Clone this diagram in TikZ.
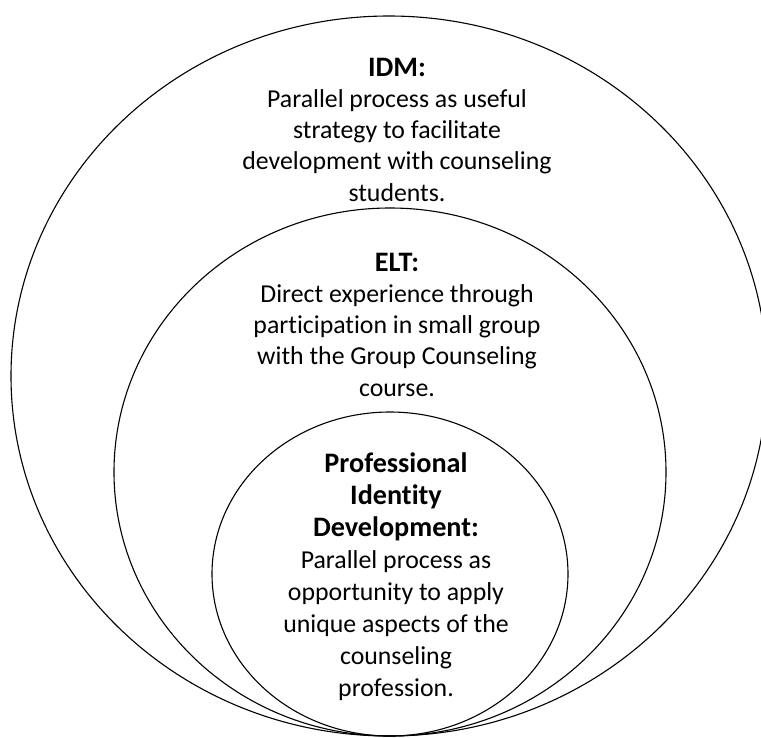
\documentclass[tikz,border=0pt]{standalone}
\usepackage{fontspec}
\setmainfont[Ligatures={NoCommon}]{Carlito}
\usetikzlibrary{shapes.geometric}

\tikzset{
  ring/.style={ellipse, draw=black, line width=1.1pt, inner sep=0pt, outer sep=0pt},
  % multi-line nodes: the base anchor sits on the baseline of the last line
  headtext/.style={anchor=base, inner sep=0pt, align=center,
                   font=\fontsize{28.2}{31.4}\selectfont\bfseries},
  bodytext/.style={anchor=base, inner sep=0pt, align=center,
                   font=\fontsize{25.8}{31.4}\selectfont},
  innerhead/.style={headtext, font=\fontsize{28.2}{32}\selectfont\bfseries},
  innerbody/.style={bodytext, font=\fontsize{25.8}{32}\selectfont}
}

\begin{document}
\begin{tikzpicture}[x=1pt, y=-1pt]
  % canvas
  \useasboundingbox (0,0) rectangle (761,737);
  \fill[white] (0,0) rectangle (761,737);

  % three nested rings meeting at the bottom
  \node[ring, minimum width=756pt, minimum height=720pt] (outer)  at (389,376) {};
  \node[ring, minimum width=552pt, minimum height=528pt] (middle) at (390,472) {};
  \node[ring, minimum width=356pt, minimum height=324pt] (inner)  at (390,574) {};

  % outer ring text
  \node[headtext] (idmhead) at (397,76) {IDM:};
  \node[bodytext] (idmbody) at (397,201.2) {Parallel process as useful\\
    strategy to facilitate\\ development with counseling\\ students.};

  % middle ring text
  \node[headtext] (elthead) at (397,271) {ELT:};
  \node[bodytext] (eltbody) at (397,396.2) {Direct experience through\\
    participation in small group\\ with the Group Counseling\\ course.};

  % inner ring text
  \node[innerhead] (pidhead) at (396,536) {Professional\\ Identity\\ Development:};
  \node[innerbody] (pidbody) at (396,696) {Parallel process as\\
    opportunity to apply\\ unique aspects of the\\ counseling\\ profession.};
\end{tikzpicture}
\end{document}
